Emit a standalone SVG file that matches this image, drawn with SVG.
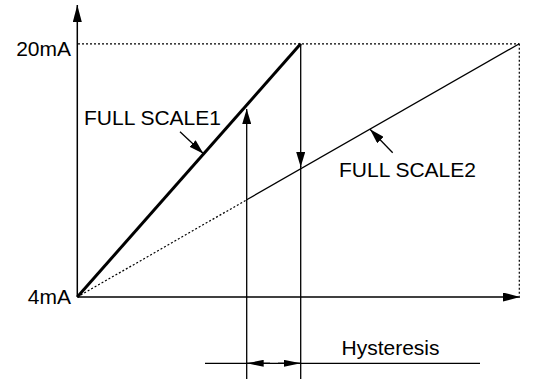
<svg xmlns="http://www.w3.org/2000/svg" width="533" height="379" viewBox="0 0 533 379">
<style>
  .ln { stroke:#000; fill:none; stroke-width:1.3; }
  .ax { stroke:#000; fill:none; stroke-width:1.5; }
  .thick { stroke:#000; fill:none; stroke-width:3; }
  .dot { stroke:#000; fill:none; stroke-width:1.2; stroke-dasharray:2 2; }
  .t { font-family:"Liberation Sans", Arial, sans-serif; font-size:21px; fill:#000; }
</style>
<defs>
  <marker id="ah" viewBox="0 0 17 9" refX="17" refY="4.5" markerWidth="17" markerHeight="9" orient="auto" markerUnits="userSpaceOnUse">
    <path d="M0,0 L17,4.5 L0,9 z" fill="#000"/>
  </marker>
  <marker id="am" viewBox="0 0 15 9" refX="15" refY="4.5" markerWidth="15" markerHeight="9" orient="auto" markerUnits="userSpaceOnUse">
    <path d="M0,0 L15,4.5 L0,9 z" fill="#000"/>
  </marker>
  <marker id="an" viewBox="0 0 17 7" refX="17" refY="3.5" markerWidth="17" markerHeight="7" orient="auto" markerUnits="userSpaceOnUse">
    <path d="M0,0 L17,3.5 L0,7 z" fill="#000"/>
  </marker>
</defs>
<g id="axes">
  <line class="ax" x1="77.3" y1="297" x2="77.3" y2="5" marker-end="url(#ah)"/>
  <line class="ax" x1="77.3" y1="297" x2="520" y2="297" marker-end="url(#ah)"/>
</g>
<g id="guides">
  <line class="dot" x1="78" y1="43.8" x2="519.3" y2="43.8"/>
  <line class="dot" x1="519.3" y1="43.8" x2="519.3" y2="296"/>
  <line class="dot" x1="77.3" y1="297" x2="246.7" y2="199.8"/>
</g>
<g id="curves">
  <line class="thick" x1="77.3" y1="297" x2="300.7" y2="43.8"/>
  <line class="ln" x1="246.7" y1="199.8" x2="519.3" y2="43.8"/>
</g>
<g id="connectors">
  <line class="ln" x1="246.7" y1="379" x2="246.7" y2="109" marker-end="url(#am)"/>
  <line class="ln" x1="300.7" y1="43.8" x2="300.7" y2="167" marker-end="url(#am)"/>
  <line class="ln" x1="300.7" y1="166" x2="300.7" y2="379"/>
  <line class="ln" x1="180" y1="131.7" x2="203.5" y2="153.8" marker-end="url(#am)"/>
  <line class="ln" x1="392.7" y1="152.7" x2="370" y2="129.3" marker-end="url(#am)"/>
  <line class="ln" x1="205" y1="363.3" x2="480" y2="363.3"/>
  <line class="ln" x1="270" y1="363.3" x2="246.7" y2="363.3" marker-end="url(#an)"/>
  <line class="ln" x1="278" y1="363.3" x2="300.7" y2="363.3" marker-end="url(#an)"/>
</g>
<g id="labels">
  <text class="t" x="71" y="56" text-anchor="end">20mA</text>
  <text class="t" x="71" y="303.5" text-anchor="end">4mA</text>
  <text id="fs1" class="t" x="84" y="125">FULL SCALE1</text>
  <text id="fs2" class="t" x="339" y="177">FULL SCALE2</text>
  <text id="hyst" class="t" x="341.5" y="355">Hysteresis</text>
</g>
</svg>
